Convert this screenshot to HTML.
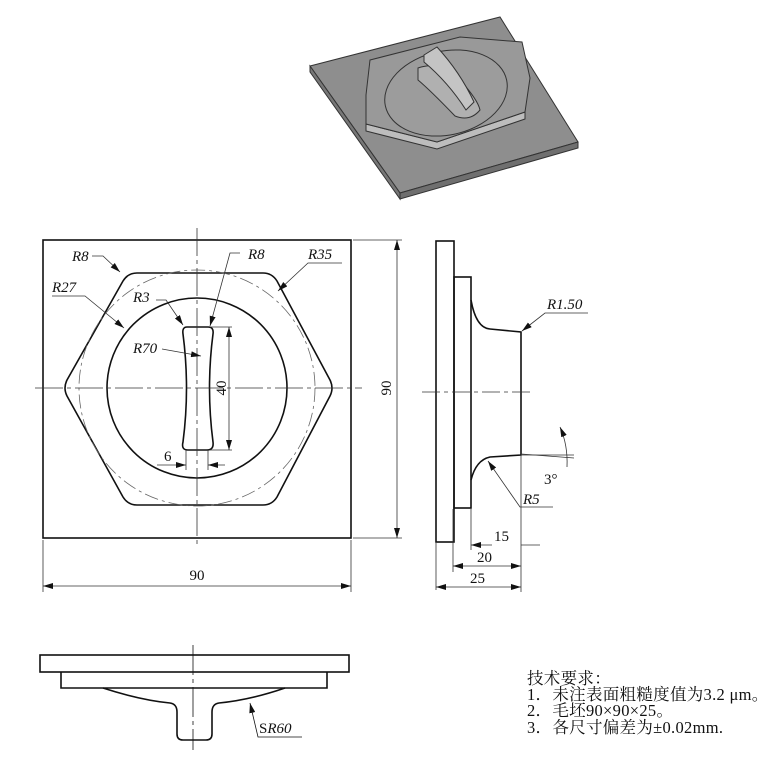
<!DOCTYPE html>
<html><head><meta charset="utf-8"><style>
html,body{margin:0;padding:0;background:#fff;}
svg{display:block;}
text{font-family:"Liberation Serif","Noto Serif CJK SC",serif;fill:#111;}
.i{font-style:italic;font-size:15px;}
.n{font-size:15px;}
</style></head><body>
<svg width="775" height="765" viewBox="0 0 775 765" xmlns="http://www.w3.org/2000/svg">
<defs>
<marker id="a" viewBox="0 0 10 6" refX="10" refY="3" markerWidth="10" markerHeight="6" orient="auto-start-reverse" markerUnits="userSpaceOnUse"><path d="M0,0L10,3L0,6z" fill="#111"/></marker>
</defs>
<g stroke="#333" stroke-width="1">
<path d="M310,66 L500,17 L578,142 L400,193 Z" fill="#8e8e8e"/>
<path d="M310,66 L400,193 L400,199 L310,72 Z" fill="#777"/>
<path d="M400,193 L578,142 L578,148 L400,199 Z" fill="#6f6f6f"/>
<path d="M366,124 L437,142 L525,112 L525,119 L437,149 L366,131 Z" fill="#bdbdbd"/>
<path d="M370,60 L460,37 L522,42 L530,78 L525,112 L437,142 L366,124 L366,95 Z" fill="#999"/>
<ellipse cx="446" cy="93" rx="62" ry="42" transform="rotate(-12 446 93)" fill="#9c9c9c"/>
<path d="M418,68 Q440,60 460,80 Q478,100 480,110 Q470,122 455,116 Q430,90 418,80 Z" fill="#b0b0b0"/>
<path d="M424,55 L437,47 Q460,72 474,102 L466,110 Q448,82 424,62 Z" fill="#c4c4c4"/>
</g>
<g stroke="#111" fill="none">
<rect x="43" y="240" width="308" height="298" stroke-width="1.6"/>
<path d="M137,273 L263,273 Q272,273 277,281 L330,380 Q334,388 330,396 L277,497 Q272,505 263,505 L137,505 Q128,505 123,497 L67,396 Q63,388 67,380 L123,281 Q128,273 137,273 Z" stroke-width="1.6"/>
<circle cx="197" cy="388" r="118" stroke-width="0.8" stroke-dasharray="14,4,3,4" stroke="#666"/>
<circle cx="197" cy="388" r="90" stroke-width="1.6"/>
<path d="M187,327 L208,327 Q214,327 213,334 Q206,388 213,442 Q214,450 207,450 L188,450 Q181,450 183,442 Q190,388 183,334 Q182,327 187,327 Z" stroke-width="1.6"/>
<g stroke-width="0.8" stroke="#333">
<line x1="197" y1="228" x2="197" y2="548" stroke-dasharray="28,4,4,4"/>
<line x1="35" y1="388" x2="362" y2="388" stroke-dasharray="28,4,4,4"/>
<line x1="210" y1="327" x2="232" y2="327"/><line x1="210" y1="450" x2="232" y2="450"/>
<line x1="229" y1="327" x2="229" y2="450" marker-start="url(#a)" marker-end="url(#a)"/>
<line x1="186" y1="450" x2="186" y2="470"/><line x1="208" y1="450" x2="208" y2="470"/>
<line x1="157" y1="465" x2="186" y2="465" marker-end="url(#a)"/><line x1="225" y1="465" x2="208" y2="465" marker-end="url(#a)"/>
<line x1="43" y1="540" x2="43" y2="592"/><line x1="351" y1="540" x2="351" y2="592"/>
<line x1="43" y1="586" x2="351" y2="586" marker-start="url(#a)" marker-end="url(#a)"/>
<line x1="353" y1="240" x2="402" y2="240"/><line x1="353" y1="538" x2="402" y2="538"/>
<line x1="397" y1="240" x2="397" y2="538" marker-start="url(#a)" marker-end="url(#a)"/>
<polyline points="92,256 103,256 120,272" marker-end="url(#a)"/>
<polyline points="52,296 85,296 124,328" marker-end="url(#a)"/>
<polyline points="156,300 166,300 183,325" marker-end="url(#a)"/>
<line x1="162" y1="349" x2="201" y2="356" marker-end="url(#a)"/>
<polyline points="240,253 230,253 210,326" marker-end="url(#a)"/>
<polyline points="342,263 308,263 278,291" marker-end="url(#a)"/>
</g>
</g>
<text class="i" x="72" y="261">R8</text>
<text class="i" x="52" y="292">R27</text>
<text class="i" x="133" y="302">R3</text>
<text class="i" x="133" y="353">R70</text>
<text class="i" x="248" y="259">R8</text>
<text class="i" x="308" y="259">R35</text>
<text class="n" x="164" y="461">6</text>
<text class="n" transform="translate(226,388) rotate(-90)" text-anchor="middle">40</text>
<text class="n" x="197" y="580" text-anchor="middle">90</text>
<text class="n" transform="translate(391,388) rotate(-90)" text-anchor="middle">90</text>
<g stroke="#111" fill="none">
<rect x="436" y="241" width="18" height="301" stroke-width="1.6"/>
<rect x="454" y="277" width="17" height="231" stroke-width="1.6"/>
<path d="M471,300 Q476,328 490,329 L521,332 L521,455 L490,457 Q476,460 471,480" stroke-width="1.6"/>
<g stroke-width="0.8" stroke="#333">
<line x1="422" y1="392" x2="533" y2="392" stroke-dasharray="18,4,4,4"/>
<polyline points="588,313 545,313 522,331" marker-end="url(#a)"/>
<polyline points="553,507 520,507 488,461" marker-end="url(#a)"/>
<line x1="521" y1="455" x2="574" y2="455"/><line x1="521" y1="454" x2="574" y2="458"/>
<path d="M560,427 Q568,445 567,467" marker-start="url(#a)"/>
<line x1="436" y1="543" x2="436" y2="590"/><line x1="453" y1="509" x2="453" y2="572"/>
<line x1="471" y1="509" x2="471" y2="550"/><line x1="521" y1="456" x2="521" y2="592"/>
<line x1="492" y1="545" x2="471" y2="545" marker-end="url(#a)"/><line x1="540" y1="545" x2="521" y2="545"/>
<line x1="453" y1="566" x2="521" y2="566" marker-start="url(#a)" marker-end="url(#a)"/>
<line x1="436" y1="587" x2="521" y2="587" marker-start="url(#a)" marker-end="url(#a)"/>
</g>
</g>
<text class="i" x="547" y="309">R1.50</text>
<text class="i" x="523" y="504">R5</text>
<text class="n" x="544" y="484">3°</text>
<text class="n" x="494" y="541">15</text>
<text class="n" x="477" y="562">20</text>
<text class="n" x="470" y="583">25</text>
<g stroke="#111" fill="none" stroke-width="1.6">
<rect x="40" y="655" width="309" height="17"/>
<path d="M61,672 L61,688 L327,688 L327,672"/>
<path d="M103,688 Q140,700 170,703 Q177,704 177,712 L177,734 Q177,740 183,740 L206,740 Q212,740 212,734 L212,712 Q212,704 219,703 Q250,700 285,688"/>
<line x1="193" y1="645" x2="193" y2="750" stroke-width="0.8" stroke-dasharray="30,4,4,4"/>
<polyline points="302,737 258,737 250,703" stroke-width="0.8" marker-end="url(#a)"/>
</g>
<text class="i" x="259" y="733"><tspan font-style="normal">S</tspan>R60</text>
<g font-size="16.5" style="font-family:'Liberation Serif','Noto Serif CJK SC',serif" letter-spacing="0.3">
<text x="527" y="684">技术要求：</text>
<text x="527" y="700">1．未注表面粗糙度值为3.2 μm。</text>
<text x="527" y="716">2．毛坯90×90×25。</text>
<text x="527" y="733">3．各尺寸偏差为±0.02mm.</text>
</g>
</svg>
</body></html>
